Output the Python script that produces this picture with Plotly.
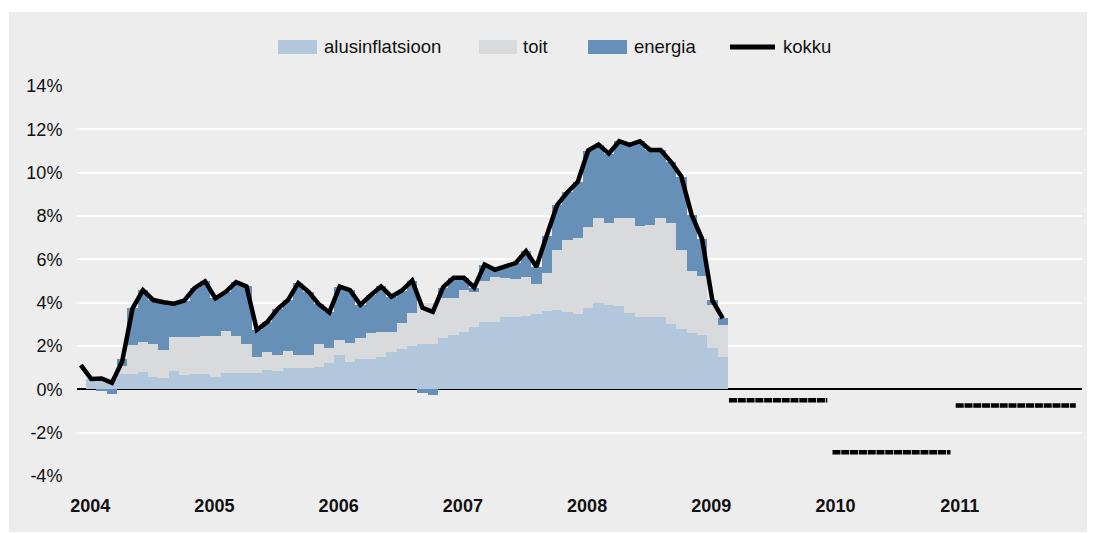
import plotly.graph_objects as go

# ---------------- data ----------------
# monthly observations, Jan 2004 .. Mar 2009
line_months = ["2004-01","2004-02","2004-03","2004-04","2004-05","2004-06","2004-07","2004-08","2004-09","2004-10","2004-11","2004-12",
               "2005-01","2005-02","2005-03","2005-04","2005-05","2005-06","2005-07","2005-08","2005-09","2005-10","2005-11","2005-12",
               "2006-01","2006-02","2006-03","2006-04","2006-05","2006-06","2006-07","2006-08","2006-09","2006-10","2006-11","2006-12",
               "2007-01","2007-02","2007-03","2007-04","2007-05","2007-06","2007-07","2007-08","2007-09","2007-10","2007-11","2007-12",
               "2008-01","2008-02","2008-03","2008-04","2008-05","2008-06","2008-07","2008-08","2008-09","2008-10","2008-11","2008-12",
               "2009-01","2009-02","2009-03"]
kokku = [1.12, 0.48, 0.50, 0.30, 1.30, 3.74, 4.58, 4.12, 4.02, 3.95, 4.10, 4.68,
         4.98, 4.20, 4.50, 4.95, 4.75, 2.74, 3.10, 3.70, 4.12, 4.90, 4.50, 3.92,
         3.55, 4.74, 4.58, 3.90, 4.35, 4.75, 4.28, 4.56, 5.02, 3.76, 3.58, 4.72,
         5.15, 5.15, 4.70, 5.76, 5.52, 5.68, 5.83, 6.38, 5.66, 7.10, 8.50, 9.10,
         9.58, 11.02, 11.30, 10.88, 11.45, 11.28, 11.45, 11.05, 11.05, 10.50, 9.82, 8.05,
         6.95, 4.10, 3.28]

# components, Feb 2004 .. Mar 2009
bar_months = line_months[1:]
alusinflatsioon = [0.50, 0.50, 0.45, 0.70, 0.72, 0.80, 0.57, 0.52, 0.84, 0.66, 0.70,
                   0.70, 0.58, 0.76, 0.76, 0.76, 0.76, 0.89, 0.86, 0.98, 0.98, 0.98, 1.03,
                   1.20, 1.58, 1.28, 1.40, 1.40, 1.51, 1.74, 1.86, 2.00, 2.09, 2.09, 2.38,
                   2.50, 2.66, 2.87, 3.12, 3.12, 3.33, 3.33, 3.38, 3.48, 3.62, 3.66, 3.56,
                   3.48, 3.74, 3.98, 3.89, 3.86, 3.54, 3.34, 3.34, 3.34, 3.00, 2.78, 2.62,
                   2.51, 1.89, 1.49]
toit = [0.00, 0.05, 0.05, 0.40, 1.33, 1.38, 1.51, 1.30, 1.58, 1.74, 1.70,
        1.75, 1.87, 1.94, 1.69, 1.34, 0.74, 0.85, 0.72, 0.80, 0.60, 0.60, 1.06,
        0.73, 0.70, 0.87, 0.98, 1.20, 1.15, 0.92, 1.22, 1.54, 1.88, 1.88, 1.82,
        1.70, 1.92, 1.63, 1.90, 2.08, 1.82, 1.76, 1.82, 1.38, 1.74, 2.77, 3.34,
        3.52, 3.76, 3.92, 3.81, 4.04, 4.36, 4.20, 4.24, 4.56, 4.66, 3.65, 2.86,
        2.73, 2.01, 1.49]
energia = [0.00, -0.05, -0.20, 0.30, 1.69, 2.40, 2.04, 2.20, 1.53, 1.70, 2.28,
           2.53, 1.75, 1.80, 2.50, 2.65, 1.24, 1.36, 2.12, 2.34, 3.32, 2.92, 1.83,
           1.62, 2.46, 2.43, 1.52, 1.75, 2.09, 1.62, 1.48, 1.48, -0.17, -0.25, 0.50,
           0.95, 0.57, 0.20, 0.74, 0.32, 0.53, 0.74, 1.18, 0.80, 1.74, 2.07, 2.20,
           2.58, 3.52, 3.40, 3.18, 3.55, 3.38, 3.91, 3.47, 3.15, 2.84, 3.39, 2.57,
           1.71, 0.22, 0.33]

# forecasts (annual averages), period in months since Jan 2004
forecast_value = [-0.50, -2.90, -0.75]
forecast_start = [62.6, 72.6, 84.5]
forecast_end = [72.1, 84.0, 96.1]

year_labels = ["2004", "2005", "2006", "2007", "2008", "2009", "2010", "2011"]
y_ticks = [-4, -2, 0, 2, 4, 6, 8, 10, 12, 14]

# ---------------- style ----------------
C_ALUS = "#B2C7DB"
C_TOIT = "#D9DADC"
C_ENER = "#6690B8"
C_BG = "#ECEDEC"
FONT = "Liberation Sans"

def midx(s):
    y, m = s.split("-")
    return (int(y) - 2004) * 12 + int(m) - 1

x_line = [midx(s) for s in line_months]
x_bar = [midx(s) for s in bar_months]

fig = go.Figure()
for name, vals, col in [("alusinflatsioon", alusinflatsioon, C_ALUS),
                        ("toit", toit, C_TOIT),
                        ("energia", energia, C_ENER)]:
    fig.add_trace(go.Bar(x=x_bar, y=vals, name=name, marker=dict(color=col, line=dict(width=0)),
                         width=1.0, showlegend=False))

fig.add_trace(go.Scatter(x=x_line, y=kokku, mode="lines", name="kokku",
                         line=dict(color="black", width=4.5), showlegend=False))

for v, s, e in zip(forecast_value, forecast_start, forecast_end):
    fig.add_trace(go.Scatter(x=[s, e], y=[v, v], mode="lines", showlegend=False,
                             line=dict(color="black", width=4.5, dash="8px,0.8px")))

# geometry; the page body adds an 8px offset, so window pixel = figure pixel + 8
OFF = 8
W, H = 1087, 525
L, R, T, B = 69, 13, 78, 57
PW, PH = W - L - R, H - T - B

def px(xw):
    return (xw - OFF - L) / PW

def py(yw):
    return (H - B - (yw - OFF)) / PH

# grey panel
fig.add_shape(type="rect", xref="paper", yref="paper", x0=px(9), x1=px(1100), y0=py(532), y1=py(12),
              fillcolor=C_BG, line=dict(width=0), layer="below")

# custom legend
items = [(278, 317, 322, "alusinflatsioon", C_ALUS, "box"),
         (479, 517, 521, "toit", C_TOIT, "box"),
         (588, 627, 632, "energia", C_ENER, "box"),
         (730, 775, 781, "kokku", "black", "line")]
ly = 47
for x0, x1, tx, label, col, kind in items:
    if kind == "box":
        fig.add_shape(type="rect", xref="paper", yref="paper", x0=px(x0), x1=px(x1),
                      y0=py(ly + 7), y1=py(ly - 7), fillcolor=col, line=dict(width=0))
    else:
        fig.add_shape(type="line", xref="paper", yref="paper", x0=px(x0), x1=px(x1),
                      y0=py(ly), y1=py(ly), line=dict(color=col, width=5))
    fig.add_annotation(xref="paper", yref="paper", x=px(tx), y=py(ly), text=label,
                       showarrow=False, xanchor="left", yanchor="middle",
                       font=dict(family=FONT, size=18.5, color="#111111"))

fig.update_layout(
    width=W, height=H,
    margin=dict(l=L, r=R, t=T, b=B, pad=0),
    paper_bgcolor="white", plot_bgcolor=C_BG,
    barmode="relative", bargap=0,
    font=dict(family=FONT, size=18, color="#111111"),
    showlegend=False,
)
fig.update_xaxes(range=[-0.37, 96.7], tickvals=[12 * i + 0.9 for i in range(len(year_labels))],
                 ticktext=["<b>%s</b>" % t for t in year_labels], automargin=False,
                 showgrid=False, zeroline=False, ticks="outside", ticklen=13, tickcolor="rgba(0,0,0,0)",
                 tickfont=dict(family=FONT, size=18, color="#111111"), showline=False)
fig.update_yaxes(range=[-4, 14], tickvals=y_ticks, ticktext=["%d%%" % v for v in y_ticks], automargin=False,
                 showgrid=True, gridcolor="white", gridwidth=1.5,
                 zeroline=True, zerolinecolor="black", zerolinewidth=1.5,
                 ticks="outside", ticklen=10, tickcolor="rgba(0,0,0,0)",
                 tickfont=dict(family=FONT, size=18, color="#111111"), showline=False)

fig.write_html("out.html")
